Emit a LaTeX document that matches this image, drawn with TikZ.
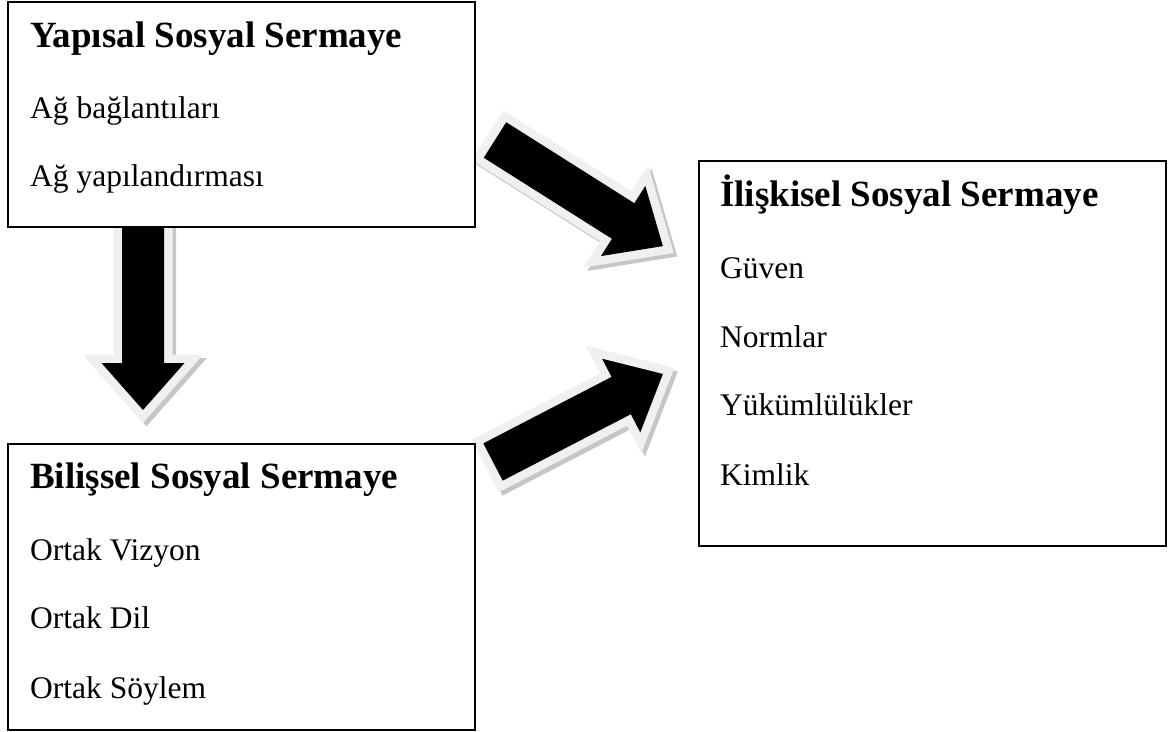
\documentclass[tikz,border=0pt]{standalone}
\usepackage{fontspec}
\setmainfont{Liberation Serif}
\begin{document}
\begin{tikzpicture}[x=1pt,y=-1pt,
  box/.style={draw=black,line width=2pt,fill=white},
  ttl/.style={anchor=base west,inner sep=0pt,font=\fontsize{37}{44}\selectfont\bfseries},
  itm/.style={anchor=base west,inner sep=0pt,font=\fontsize{31.5}{38}\selectfont},
  arrshadow/.style={draw=gray!45,fill=gray!45,line width=17pt,line join=miter,miter limit=20},
  arroutline/.style={draw=gray!12,fill=gray!12,line width=17pt,line join=miter,miter limit=20},
  arrbody/.style={fill=black}]
\useasboundingbox (0,0) rectangle (1169,731);
\fill[white] (0,0) rectangle (1169,731);
% block arrow: #1 tail, #2 angle, #3 length
\newcommand\blockarrow[3]{%
  \foreach \st/\dx/\dy in {arrshadow/3.5/3.5,arroutline/0/0,arrbody/0/0}{%
    \begin{scope}[shift={(#1)},shift={(\dx,\dy)},rotate=#2]
      \path[\st] (0,21) -- ({#3-47},21) -- ({#3-47},41.5) -- (#3,0) -- ({#3-47},-41.5) -- ({#3-47},-21) -- (0,-21) -- cycle;
    \end{scope}}}
\coordinate (t1) at (143,226);
\coordinate (t2) at (495,140);
\coordinate (t3) at (493,462);
\blockarrow{t1}{-90}{184}
\blockarrow{t2}{-32.3}{198.6}
\blockarrow{t3}{27.4}{191.4}
% boxes
\draw[box] (7.5,1.5) rectangle (475,227);
\draw[box] (7.5,444) rectangle (475,730);
\draw[box] (699,161) rectangle (1166,546);
\node (A) at (241,114) {};
\node (B) at (241,587) {};
\node (C) at (932,353) {};
% texts
\node[ttl] (a0) at (30,47) {Yapısal Sosyal Sermaye};
\node[itm] (a1) at (30,118) {Ağ bağlantıları};
\node[itm] (a2) at (30,186) {Ağ yapılandırması};
\node[ttl] (b0) at (30,488) {Bilişsel Sosyal Sermaye};
\node[itm] (b1) at (30,560) {Ortak Vizyon};
\node[itm] (b2) at (30,628) {Ortak Dil};
\node[itm] (b3) at (30,698) {Ortak Söylem};
\node[ttl] (c0) at (720,206) {İlişkisel Sosyal Sermaye};
\node[itm] (c1) at (720,278) {Güven};
\node[itm] (c2) at (720,347) {Normlar};
\node[itm] (c3) at (720,415) {Yükümlülükler};
\node[itm] (c4) at (720,485) {Kimlik};
\end{tikzpicture}
\end{document}
